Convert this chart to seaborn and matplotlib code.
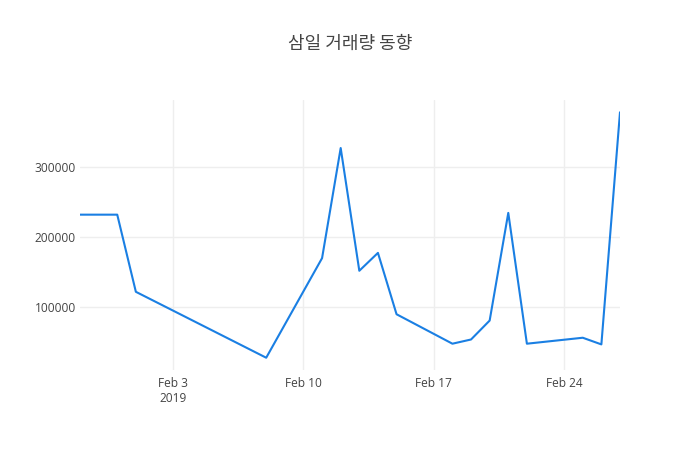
import matplotlib
matplotlib.use("Agg")
import matplotlib.pyplot as plt
import seaborn as sns
import pandas as pd
import matplotlib.dates as mdates

dates = ["2019-01-29", "2019-01-31", "2019-02-01", "2019-02-08", "2019-02-11",
         "2019-02-12", "2019-02-13", "2019-02-14", "2019-02-15", "2019-02-18",
         "2019-02-19", "2019-02-20", "2019-02-21", "2019-02-22", "2019-02-25",
         "2019-02-26", "2019-02-27"]
volumes = [232000, 232000, 122000, 28000, 170000,
           327000, 152000, 177500, 90000, 48000,
           54000, 81000, 234500, 48000, 56500,
           47000, 378000]
tick_dates = ["2019-02-03", "2019-02-10", "2019-02-17", "2019-02-24"]
tick_labels = ["Feb 3\n2019", "Feb 10", "Feb 17", "Feb 24"]
y_ticks = [100000, 200000, 300000]
title = "삼일 거래량 동향"

df = pd.DataFrame({"date": pd.to_datetime(dates), "volume": volumes})

sns.set_theme(style="white")
plt.rcParams['font.family'] = ['Open Sans', 'Noto Sans CJK KR', 'DejaVu Sans']

fig = plt.figure(figsize=(7, 4.5), dpi=100)
ax = fig.add_axes([80/700, 80/450, 540/700, 270/450])

sns.lineplot(data=df, x="date", y="volume", ax=ax, color="#1a7fe3", linewidth=1.5)

ax.set_xlim(df["date"].min(), df["date"].max())
vmin, vmax = min(volumes), max(volumes)
pad = (vmax - vmin) * 0.05
ax.set_ylim(vmin - pad, vmax + pad)

ax.set_xticks(pd.to_datetime(tick_dates))
ax.set_xticklabels(tick_labels, linespacing=1.25)
ax.set_yticks(y_ticks)
ax.set_yticklabels([str(v) for v in y_ticks])

ax.grid(True, color="#eeeeee", linewidth=1)
ax.set_axisbelow(True)
for s in ax.spines.values():
    s.set_visible(False)
ax.tick_params(axis="both", length=0, labelsize=8.6, labelcolor="#444444")
ax.tick_params(axis="x", pad=5)
ax.tick_params(axis="y", pad=3)
ax.set_xlabel("")
ax.set_ylabel("")

fig.text(0.5, 1 - 44/450, title, ha="center", va="center", fontsize=13,
         color="#444444", family=['Noto Sans CJK KR', 'DejaVu Sans'])

fig.savefig("out.png", dpi=100, facecolor="white")
